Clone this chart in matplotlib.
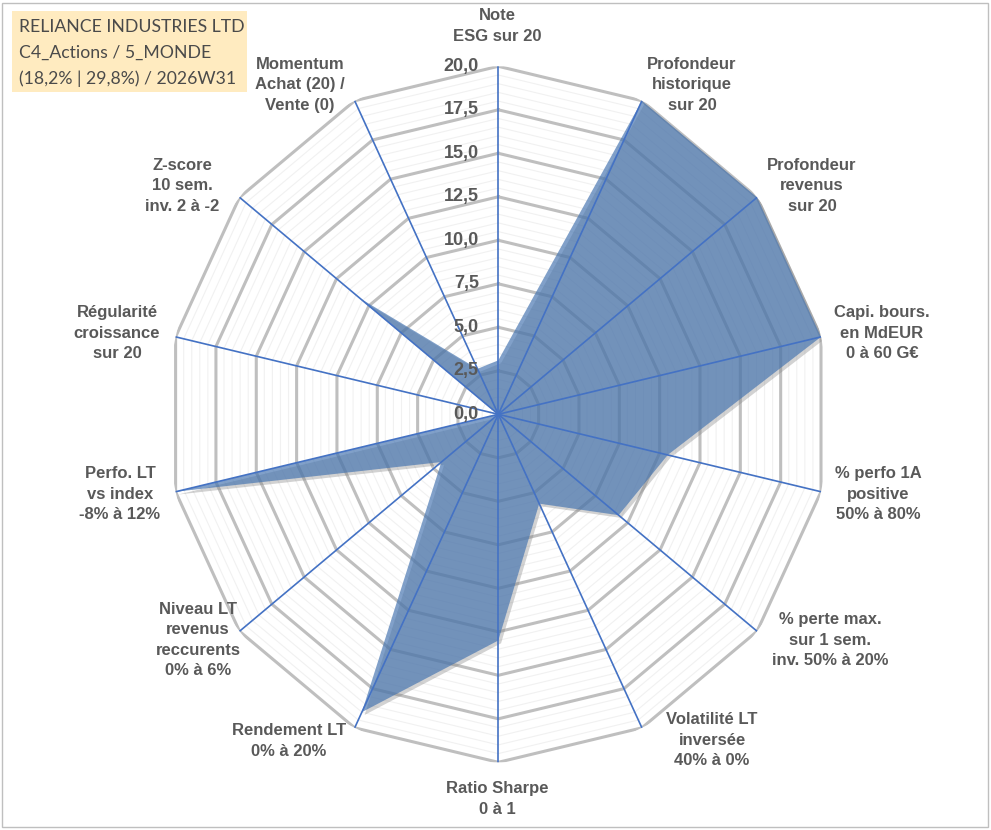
import numpy as np
import matplotlib
matplotlib.use("Agg")
import matplotlib.pyplot as plt
import matplotlib.patheffects as pe
from matplotlib.patches import Rectangle
from matplotlib.transforms import offset_copy

# --- données ---
categories = [
    "Note\nESG sur 20",
    "Profondeur\nhistorique\nsur 20",
    "Profondeur\nrevenus\nsur 20",
    "Capi. bours.\nen MdEUR\n0 à 60 G€",
    "% perfo 1A\npositive\n50% à 80%",
    "% perte max.\nsur 1 sem.\ninv. 50% à 20%",
    "Volatilité LT\ninversée\n40% à 0%",
    "Ratio Sharpe\n0 à 1",
    "Rendement LT\n0% à 20%",
    "Niveau LT\nrevenus\nreccurents\n0% à 6%",
    "Perfo. LT\nvs index\n-8% à 12%",
    "Régularité\ncroissance\nsur 20",
    "Z-score\n10 sem.\ninv. 2 à -2",
    "Momentum\nAchat (20) /\nVente (0)",
]
scores = [3.1, 20.0, 20.0, 20.0, 10.5, 9.3, 5.7, 13.0, 19.0, 4.4, 20.0, 0.0, 10.7, 2.9]
major_ticks = [0.0, 2.5, 5.0, 7.5, 10.0, 12.5, 15.0, 17.5, 20.0]
tick_labels = ["0,0", "2,5", "5,0", "7,5", "10,0", "12,5", "15,0", "17,5", "20,0"]
title_lines = ["RELIANCE INDUSTRIES LTD", "C4_Actions / 5_MONDE", "(18,2% | 29,8%) / 2026W31"]

# centres des libellés (pixels de l'image)
label_px = [(497, 26), (692, 85), (812, 186), (882, 333), (878, 494), (830, 640),
            (712, 740), (497, 799), (289, 741), (198, 640), (120, 494), (117, 333),
            (182, 186), (300, 85)]

W, H = 991, 830
GREY_TXT = "#595959"
BLUE = "#4472C4"

fig = plt.figure(figsize=(W / 100, H / 100), dpi=100)
fig.patch.set_facecolor("white")

# axe polaire (légèrement étiré verticalement comme l'original)
cx, cy, rx, ry = 498.3, 414.3, 331, 348
ax = fig.add_axes([(cx - rx) / W, 1 - (cy + ry) / H, 2 * rx / W, 2 * ry / H], projection="polar")
ax.set_aspect("auto")
ax.set_theta_zero_location("N")
ax.set_theta_direction(-1)
ax.set_ylim(0, 20)
ax.grid(False)
ax.spines["polar"].set_visible(False)
ax.set_xticks([])
ax.set_yticks([])
ax.patch.set_alpha(0)

n = len(categories)
theta = np.linspace(0, 2 * np.pi, n, endpoint=False)
theta_c = np.append(theta, theta[0])

# grille mineure et majeure (polygones)
for r in np.arange(0.5, 20.01, 0.5):
    if np.isclose(r % 2.5, 0) or np.isclose(r % 2.5, 2.5):
        continue
    ax.plot(theta_c, [r] * (n + 1), color="#F1F1F1", lw=0.8, zorder=1)
for r in major_ticks[1:]:
    ax.plot(theta_c, [r] * (n + 1), color="#BFBFBF", lw=2.2, zorder=2)

# zone remplie
vals = np.append(scores, scores[0])
poly = ax.fill(theta_c, vals, color="#4574B0", alpha=0.68, lw=0, zorder=3)[0]
poly.set_path_effects([pe.SimplePatchShadow(offset=(2, -2), shadow_rgbFace="#808080", alpha=0.35),
                       pe.Normal()])

# rayons
for t in theta:
    ax.plot([t, t], [0, 20], color=BLUE, lw=1.2, zorder=4)

# étiquettes de l'échelle
trans = offset_copy(ax.transData, fig=fig, x=-14, y=0, units="points")
for r, lab in zip(major_ticks, tick_labels):
    ax.text(0, r, lab, transform=trans, ha="right", va="center", fontsize=13,
            fontweight="bold", color=GREY_TXT, family="Liberation Sans", zorder=5)

# libellés des catégories
for lab, (px, py) in zip(categories, label_px):
    fig.text(px / W, 1 - py / H, lab, ha="center", va="center", fontsize=12,
             fontweight="bold", color=GREY_TXT, family="Liberation Sans", linespacing=1.45)

# cartouche titre
fig.add_artist(Rectangle((12 / W, 1 - 92 / H), (247 - 12) / W, (92 - 11) / H,
                         transform=fig.transFigure, facecolor="#FFEBC0", edgecolor="none"))
for i, line in enumerate(title_lines):
    fig.text(19 / W, 1 - (27 + 26 * i) / H, line, ha="left", va="center", fontsize=12.7,
             color="#4A4A4A", family="Lato")

# cadre
fig.add_artist(Rectangle((2 / W, 3 / H), (W - 5) / W, (H - 6) / H, transform=fig.transFigure,
                         facecolor="none", edgecolor="#BFBFBF", lw=1))

fig.savefig("out.png", dpi=100)
